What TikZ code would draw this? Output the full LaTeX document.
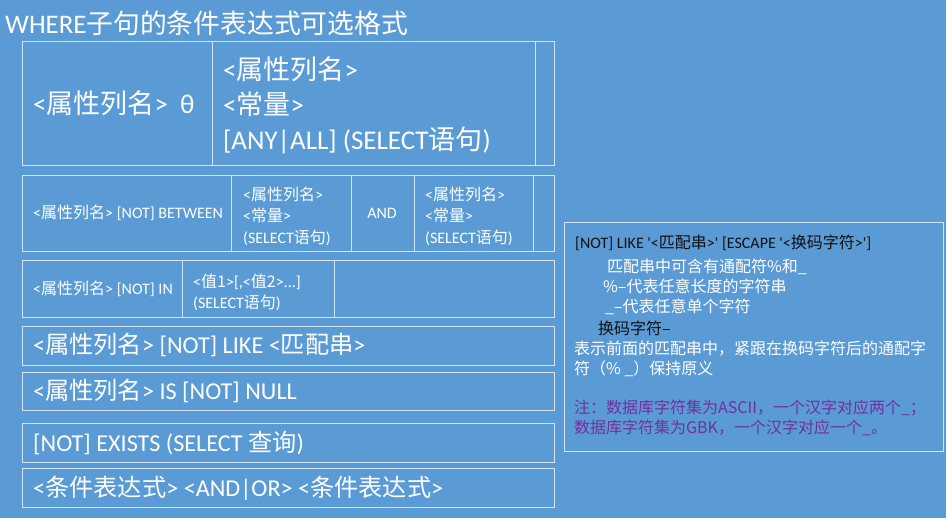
\documentclass[tikz,border=0pt]{standalone}
\usepackage{fontspec}
\setmainfont{Carlito}
\newfontfamily\lat{Carlito}
\newfontfamily\cjk{Noto Sans CJK SC}
\newcommand\zh[1]{{\cjk #1}}
\definecolor{bgblue}{HTML}{5B9BD5}
\definecolor{gridline}{HTML}{D2E4F5}
\definecolor{notepurple}{HTML}{7030A0}
\definecolor{darktext}{HTML}{101010}
\tikzset{
  grid/.style={draw=gridline, line width=0.8pt},
  txt/.style={text=white, inner sep=0pt, anchor=west, align=left},
  fbig/.style={font={\lat\fontsize{27}{35}\selectfont}},
  frow/.style={font={\lat\fontsize{24.2}{30}\selectfont}},
  fsmall/.style={font={\lat\fontsize{16}{21.5}\selectfont}},
  fnote/.style={font={\lat\fontsize{16}{20}\selectfont}},
  ftitle/.style={font={\lat\fontsize{26.8}{30}\selectfont}},
}
\begin{document}
\begin{tikzpicture}[x=1pt,y=-1pt]
\fill[bgblue] (0,0) rectangle (946,518);
\useasboundingbox (0,0) rectangle (946,518);

% title
\node[txt,ftitle] (title) at (5,23) {WHERE\zh{子句的条件表达式可选格式}};

% table 1
\draw[grid] (22,41) rectangle (554,165);
\draw[grid] (212,41) -- (212,165);
\draw[grid] (535,41) -- (535,165);
\node[txt,fbig] (t1a) at (33,103) {<\zh{属性列名}>\hspace{0.45em}θ};
\node[txt,fbig] (t1b) at (223,105) {<\zh{属性列名}>\\<\zh{常量}>\\{[}ANY|ALL] (SELECT\zh{语句})};

% table 2
\draw[grid] (22,175) rectangle (554,251);
\foreach \xx in {231,351,414,533} \draw[grid] (\xx,175) -- (\xx,251);
\node[txt,fsmall] (t2a) at (33,213) {<\zh{属性列名}> [NOT] BETWEEN};
\node[txt,fsmall] (t2b) at (243,216) {<\zh{属性列名}>\\<\zh{常量}>\\(SELECT\zh{语句})};
\node[txt,fsmall,anchor=center] (t2c) at (382,213) {AND};
\node[txt,fsmall] (t2d) at (425,216) {<\zh{属性列名}>\\<\zh{常量}>\\(SELECT\zh{语句})};

% table 3
\draw[grid] (22,260) rectangle (554,317);
\foreach \xx in {182,334} \draw[grid] (\xx,260) -- (\xx,317);
\node[txt,fsmall] (t3a) at (33,289) {<\zh{属性列名}> [NOT] IN};
\node[txt,fsmall,font={\lat\fontsize{16}{21}\selectfont}] (t3b) at (193,292) {<\zh{值1}>[,<\zh{值2}>...]\\(SELECT\zh{语句})};

% single rows
\draw[grid] (22,326) rectangle (554,365);
\draw[grid] (22,372) rectangle (554,410);
\draw[grid] (22,423) rectangle (554,462);
\draw[grid] (22,468) rectangle (554,507);
\node[txt,frow] (r4) at (33,345) {<\zh{属性列名}> [NOT] LIKE <\zh{匹配串}>};
\node[txt,frow] (r5) at (33,391) {<\zh{属性列名}> IS [NOT] NULL};
\node[txt,frow] (r6) at (33,443) {[NOT] EXISTS (SELECT \zh{查询})};
\node[txt,frow] (r7) at (33,488) {<\zh{条件表达式}> <AND|OR> <\zh{条件表达式}>};

% right note box
\draw[grid] (564,222) rectangle (943,451);
\node[txt,fnote,text=darktext] (n1) at (575,243) {[NOT] LIKE '<\zh{匹配串}>' [ESCAPE '<\zh{换码字符}>']};
\node[txt,fnote] (n2) at (607,267) {\zh{匹配串中可含有通配符\%和\_}};
\node[txt,fnote] (n3) at (603,286) {\zh{\%–代表任意长度的字符串}};
\node[txt,fnote] (n4) at (605,307) {\zh{\_–代表任意单个字符}};
\node[txt,fnote,text=darktext] (n5) at (598,328) {\zh{换码字符–}};
\node[txt,fnote] (n6) at (574,349) {\zh{表示前面的匹配串中，紧跟在换码字符后的通配字}};
\node[txt,fnote] (n7) at (574,369) {\zh{符（\% \_）保持原义}};
\node[txt,fnote,text=notepurple] (n8) at (574,408) {\zh{注：数据库字符集为ASCII，一个汉字对应两个\_；}};
\node[txt,fnote,text=notepurple] (n9) at (574,428) {\zh{数据库字符集为GBK，一个汉字对应一个\_。}};
\end{tikzpicture}
\end{document}
